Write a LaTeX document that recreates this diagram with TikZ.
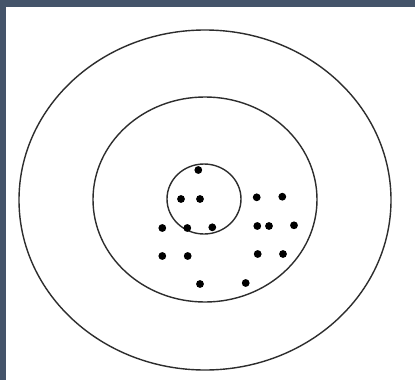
\documentclass[tikz,border=0pt]{standalone}
\definecolor{frame}{RGB}{68,84,106}
\definecolor{ink}{RGB}{45,45,45}
\begin{document}
\begin{tikzpicture}[x=1pt,y=-1pt,
  ring/.style={draw=ink,line width=1.4pt},
  dot/.style={fill=black}]
\useasboundingbox (0,0) rectangle (415,380);
\fill[white] (0,0) rectangle (415,380);
\fill[frame] (0,0) rectangle (415,7);
\fill[frame] (0,0) rectangle (6,380);
\draw[ring] (205,200) ellipse [x radius=186, y radius=170];
\draw[ring] (205,199.5) ellipse [x radius=112, y radius=102.5];
\draw[ring] (204,199) ellipse [x radius=37, y radius=35];
\foreach \p in {(198.3,170),(181,199),(200,199),(256.7,197.3),(282.3,196.7),
  (162.3,228),(187.3,228),(212.3,227.3),(257.3,226),(269,226),(294,225.3),
  (162.3,256),(187.7,256),(257.7,254),(283,254),(200,284),(245.7,283)}
  \fill[dot] \p circle [radius=3.9];
\end{tikzpicture}
\end{document}
